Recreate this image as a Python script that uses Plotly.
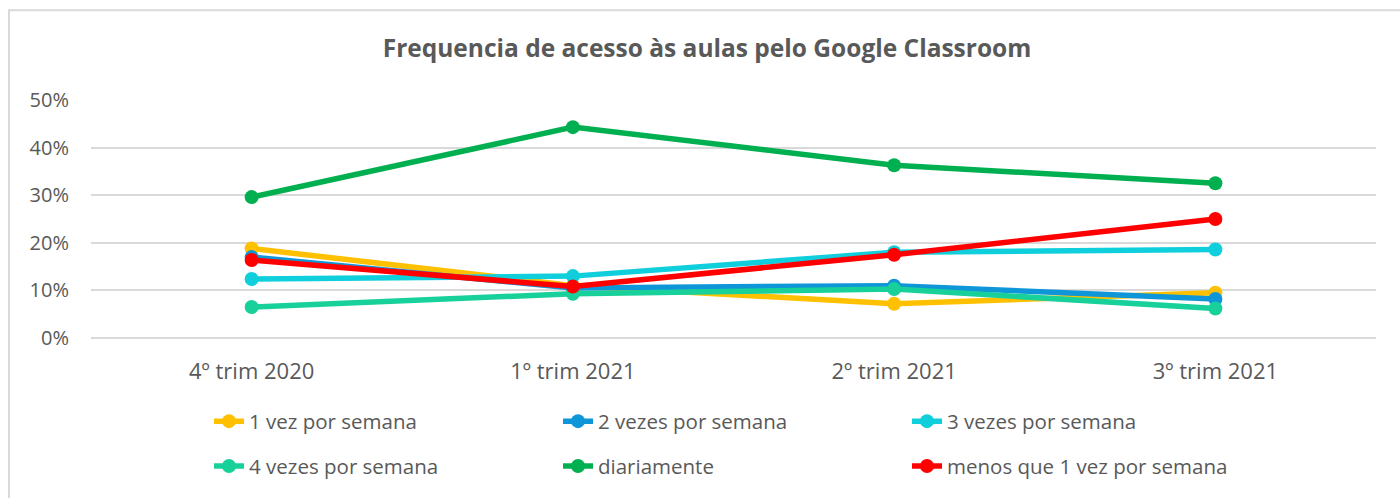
import plotly.graph_objects as go

categories = ["4º trim 2020", "1º trim 2021", "2º trim 2021", "3º trim 2021"]

series_names = [
    "1 vez por semana",
    "2 vezes por semana",
    "3 vezes por semana",
    "4 vezes por semana",
    "diariamente",
    "menos que 1 vez por semana",
]

uma_vez = [0.188, 0.110, 0.072, 0.095]
duas_vezes = [0.170, 0.105, 0.110, 0.082]
tres_vezes = [0.124, 0.130, 0.180, 0.186]
quatro_vezes = [0.065, 0.093, 0.103, 0.062]
diariamente = [0.296, 0.443, 0.363, 0.325]
menos_uma = [0.164, 0.108, 0.175, 0.250]

colors = ["#FFC000", "#0E96D8", "#10CFDC", "#17D09A", "#00B050", "#FF0000"]

values = [uma_vez, duas_vezes, tres_vezes, quatro_vezes, diariamente, menos_uma]

TXT = "#595959"
FONT = "Open Sans, DejaVu Sans, sans-serif"

W, H = 1400, 498
L, R, T, B = 91, 24, 100, 159.5
ph = H - T - B
pw = W - L - R


def py(ypx):
    return (H - B - ypx) / ph


def px(xpx):
    return (xpx - L) / pw


fig = go.Figure()
for i, (name, vals, col) in enumerate(zip(series_names, values, colors)):
    fig.add_trace(
        go.Scatter(
            x=categories,
            y=vals,
            name=name,
            mode="lines+markers",
            line=dict(color=col, width=5.5),
            marker=dict(color=col, size=14),
            legend="legend" if i < 3 else "legend2",
        )
    )

legend_common = dict(
    orientation="h",
    xanchor="left",
    yanchor="middle",
    entrywidth=304,
    entrywidthmode="pixels",
    font=dict(family=FONT, size=20.5, color=TXT),
    bgcolor="rgba(0,0,0,0)",
    traceorder="normal",
)

fig.update_layout(
    width=W,
    height=H,
    margin=dict(l=L, r=R, t=T, b=B),
    paper_bgcolor="white",
    plot_bgcolor="white",
    title=dict(
        text="<b>Frequencia de acesso às aulas pelo Google Classroom</b>",
        x=0.505,
        xanchor="center",
        y=1 - 48 / H,
        yanchor="middle",
        font=dict(family=FONT, size=24.5, color=TXT),
    ),
    xaxis=dict(
        type="category",
        range=[-0.5, 3.5],
        showgrid=False,
        showline=False,
        zeroline=False,
        ticks="",
        ticklabelstandoff=18,
        tickfont=dict(family=FONT, size=22, color=TXT),
    ),
    yaxis=dict(
        range=[0, 0.5],
        dtick=0.1,
        tickformat=".0%",
        showgrid=True,
        gridcolor="#D9D9D9",
        gridwidth=2,
        zeroline=True,
        zerolinecolor="#D9D9D9",
        zerolinewidth=2,
        showline=False,
        ticks="",
        ticklabelstandoff=21,
        tickfont=dict(family=FONT, size=20, color=TXT),
    ),
    legend=dict(x=px(209), y=py(422), **legend_common),
    legend2=dict(x=px(209), y=py(467), **legend_common),
    showlegend=True,
    shapes=[
        dict(
            type="rect",
            xref="paper",
            yref="paper",
            x0=px(9),
            x1=px(1420),
            y0=py(10),
            y1=py(520),
            line=dict(color="#D9D9D9", width=2),
            fillcolor="rgba(0,0,0,0)",
            layer="below",
        )
    ],
)

fig.write_html(
    "out.html",
    config={"displayModeBar": False},
    post_script="document.body.style.margin='0';document.body.style.padding='0';",
)
